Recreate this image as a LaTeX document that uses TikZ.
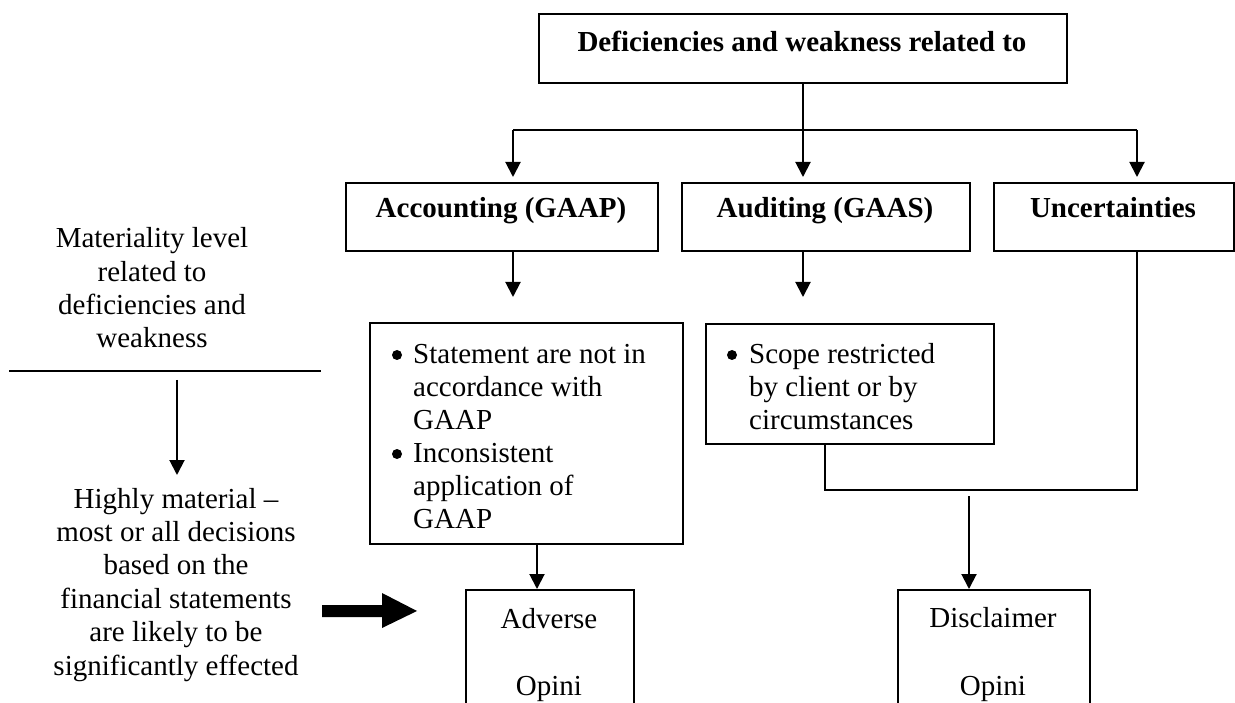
\documentclass[tikz,border=0pt]{standalone}
\usepackage{fontspec}
\setmainfont{Liberation Serif}
\usetikzlibrary{arrows.meta}
\begin{document}
\begin{tikzpicture}[x=1pt,y=-1pt,
  ln/.style={line width=2pt},
  arr/.style={ln,-{Triangle[length=15pt,width=15pt]}},
  box/.style={draw,line width=2pt,anchor=north west,inner sep=0pt},
  txt/.style={inner sep=0pt,font=\fontsize{29}{33}\selectfont},
  bld/.style={inner sep=0pt,font=\fontsize{29}{33}\selectfont\bfseries},
  bul/.style={circle,fill,inner sep=0pt,minimum size=10pt}]
\fill[white] (0,0) rectangle (1235,703);
\useasboundingbox (0,0) rectangle (1235,703);
\clip (0,0) rectangle (1235,703);

% boxes
\node[box,minimum width=528pt,minimum height=69pt] (top) at (538,13) {};
\node[box,minimum width=312pt,minimum height=68pt] (acc) at (345,182) {};
\node[box,minimum width=288pt,minimum height=68pt] (aud) at (681,182) {};
\node[box,minimum width=240pt,minimum height=68pt] (unc) at (993,182) {};
\node[box,minimum width=313pt,minimum height=221pt] (stmt) at (369,322) {};
\node[box,minimum width=288pt,minimum height=120pt] (scope) at (705,323) {};
\node[box,minimum width=168pt,minimum height=140pt] (adv) at (465,589) {};
\node[box,minimum width=192pt,minimum height=140pt] (disc) at (897,589) {};

% texts
\node[bld,anchor=base] (tTop) at (802,52) {Deficiencies and weakness related to};
\node[bld,anchor=base] (tAcc) at (501,218) {Accounting (GAAP)};
\node[bld,anchor=base] (tAud) at (825,218) {Auditing (GAAS)};
\node[bld,anchor=base] (tUnc) at (1113,218) {Uncertainties};

\node[bul] (bs1) at (397,355) {};
\node[txt,anchor=base west] (s1) at (413,363) {Statement are not in};
\node[txt,anchor=base west] (s2) at (413,396) {accordance with};
\node[txt,anchor=base west] (s3) at (413,429) {GAAP};
\node[bul] (bs2) at (397,454) {};
\node[txt,anchor=base west] (s4) at (413,462) {Inconsistent};
\node[txt,anchor=base west] (s5) at (413,495) {application of};
\node[txt,anchor=base west] (s6) at (413,528) {GAAP};

\node[bul] (bc1) at (732,355) {};
\node[txt,anchor=base west] (c1) at (749,363) {Scope restricted};
\node[txt,anchor=base west] (c2) at (749,396) {by client or by};
\node[txt,anchor=base west] (c3) at (749,429) {circumstances};

\node[txt,anchor=base] (a1) at (549,628) {Adverse};
\node[txt,anchor=base] (a2) at (549,695) {Opini};
\node[txt,anchor=base] (d1) at (993,627) {Disclaimer};
\node[txt,anchor=base] (d2) at (993,695) {Opini};

\node[txt,anchor=base] (m1) at (152,248) {Materiality level};
\node[txt,anchor=base] (m2) at (152,281.3) {related to};
\node[txt,anchor=base] (m3) at (152,314.6) {deficiencies and};
\node[txt,anchor=base] (m4) at (152,348) {weakness};

\node[txt,anchor=base] (h1) at (176,508) {Highly material --};
\node[txt,anchor=base] (h2) at (176,541.4) {most or all decisions};
\node[txt,anchor=base] (h3) at (176,574.8) {based on the};
\node[txt,anchor=base] (h4) at (176,608.2) {financial statements};
\node[txt,anchor=base] (h5) at (176,641.6) {are likely to be};
\node[txt,anchor=base] (h6) at (176,675) {significantly effected};

% connectors
\coordinate (hl) at (513,130);
\coordinate (hr) at (1137,130);
\draw[ln] (hl) -- (hr);
\draw[ln] (top.south) -- (top.south |- hl);
\draw[arr,shorten >=5pt] (hl) -- (hl |- acc.north);
\draw[arr,shorten >=5pt] (top.south |- hl) -- (top.south |- aud.north);
\draw[arr,shorten >=5pt] (hr) -- (hr |- unc.north);

\draw[arr,shorten >=25pt] (hl |- acc.south) -- (hl |- stmt.north);
\draw[arr,shorten >=26pt] (top.south |- aud.south) -- (top.south |- scope.north);

\coordinate (sa) at (537,543);
\draw[arr] (sa |- stmt.south) -- (sa |- adv.north);

\coordinate (j1) at (825,490);
\coordinate (j2) at (1137,490);
\draw[ln] (j1 |- scope.south) -- (j1) -- (j2) -- (j2 |- unc.south);

\coordinate (d0) at (969,496);
\draw[arr] (d0) -- (d0 |- disc.north);

\coordinate (L1) at (9,371);
\coordinate (L2) at (321,371);
\draw[ln] (L1) -- (L2);
\coordinate (v1) at (177,380);
\coordinate (v2) at (177,475);
\draw[arr] (v1) -- (v2);

% thick arrow
\fill (322,605) -- (382,605) -- (382,593) -- (417,611) -- (382,628) -- (382,617) -- (322,617) -- cycle;
\end{tikzpicture}
\end{document}
